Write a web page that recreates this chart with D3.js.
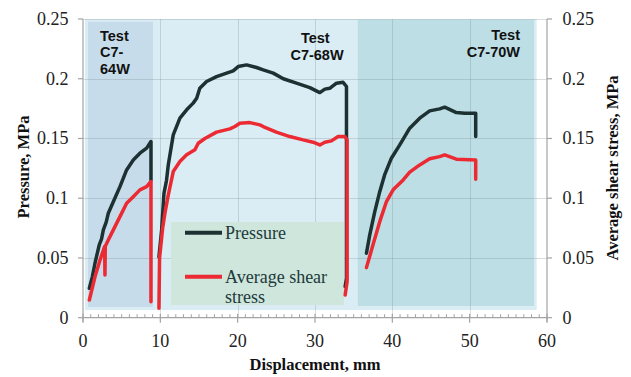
<!DOCTYPE html>
<html>
<head>
<meta charset="utf-8">
<script src="https://cdn.jsdelivr.net/npm/d3@7"></script>
<style>
  html, body { margin: 0; padding: 0; background: #fff; }
  svg { display: block; }
</style>
</head>
<body>
<svg id="chart" width="631" height="377"></svg>
<script>
// Displacement (mm) / value (MPa) pairs for each test
const pressure64 = [[0.82,0.0246],[1.2,0.034],[1.55,0.0456],[2.1,0.061],[2.4,0.066],[2.63,0.0735],[3.0,0.08],[3.27,0.0874],[3.92,0.097],[4.78,0.1097],[5.64,0.1237],[6.5,0.132],[7.36,0.1377],[8.23,0.1419],[8.79,0.1474],[8.79,0.115]];
const shear64 = [[0.82,0.0148],[1.55,0.0343],[2.2,0.0483],[2.8,0.0595],[2.84,0.0358],[2.88,0.0597],[3.27,0.065],[3.92,0.0735],[4.78,0.0846],[5.64,0.0958],[6.5,0.1013],[7.36,0.107],[8.23,0.1097],[8.79,0.114],[8.79,0.0134]];

const pressure68 = [[9.82,0.051],[10.17,0.0735],[10.47,0.104],[10.8,0.115],[11.03,0.128],[11.67,0.153],[12.53,0.167],[13.4,0.174],[14.25,0.1796],[14.7,0.1837],[15.1,0.192],[15.98,0.1977],[17.27,0.2018],[18.57,0.2047],[19.42,0.2066],[20.07,0.2102],[21.15,0.2116],[22.44,0.2094],[23.3,0.2074],[24.6,0.2047],[25.9,0.2],[27.6,0.1963],[29.33,0.1926],[30.62,0.1884],[31.27,0.1913],[31.9,0.192],[32.78,0.1963],[33.63,0.197],[34.07,0.1935],[34.07,0.033],[33.9,0.026]];
const shear68 = [[9.82,0.008],[9.9,0.05],[10.3,0.075],[10.6,0.0877],[11.03,0.1028],[11.67,0.1223],[12.53,0.1307],[13.4,0.1363],[14.47,0.1405],[14.9,0.146],[15.76,0.15],[17.27,0.1553],[18.99,0.158],[19.64,0.16],[20.28,0.1628],[21.57,0.1633],[22.87,0.1614],[23.3,0.16],[25.0,0.1553],[26.74,0.1516],[28.46,0.1488],[29.75,0.1469],[30.62,0.1446],[31.27,0.1469],[32.13,0.148],[32.99,0.1516],[33.85,0.1516],[34.15,0.149],[34.15,0.03],[33.9,0.019]];

const pressure70 = [[36.65,0.0539],[37.08,0.0693],[37.73,0.0888],[38.37,0.1055],[39.0,0.1195],[39.88,0.1335],[40.96,0.1446],[42.25,0.1586],[43.54,0.167],[44.83,0.1731],[46.12,0.1748],[46.77,0.1762],[48.28,0.1717],[49.35,0.1712],[50.78,0.1712],[50.78,0.1516]];
const shear70 = [[36.65,0.0419],[37.5,0.061],[38.37,0.0804],[39.24,0.0972],[40.1,0.107],[41.4,0.1153],[42.25,0.1218],[43.54,0.1279],[44.83,0.133],[46.12,0.1348],[46.77,0.1363],[48.28,0.1327],[50.78,0.132],[50.78,0.1159]];

const xTicks = [0, 10, 20, 30, 40, 50, 60];
const yTicks = [0, 0.05, 0.1, 0.15, 0.2, 0.25];
const seriesNames = ["Pressure", "Average shear stress"];
const testNames = ["C7-64W", "C7-68W", "C7-70W"];

const svg = d3.select("#chart");
const x = d3.scaleLinear().domain([0, 60]).range([83, 547]);
const y = d3.scaleLinear().domain([0, 0.25]).range([317.7, 19]);

const DARK = "#1d3133", RED = "#ec2a33", AXIS = "#a3a3a3";
const serif = "'Liberation Serif', 'Times New Roman', serif";
const sans = "'Liberation Sans', Arial, sans-serif";

// shaded test zones
svg.append("rect").attr("x", x(0.26)).attr("y", y(0.25)).attr("width", x(58.66) - x(0.26)).attr("height", y(0.0064) - y(0.25)).attr("fill", "#daedf4");
svg.append("rect").attr("x", x(0.65)).attr("y", y(0.2477)).attr("width", x(9.05) - x(0.65)).attr("height", y(0.009) - y(0.2477)).attr("fill", "#c7dcea");
svg.append("rect").attr("x", x(35.53)).attr("y", y(0.2493)).attr("width", x(58.33) - x(35.53)).attr("height", y(0.0098) - y(0.2493)).attr("fill", "#bddee5");

// gridlines
const grid = svg.append("g").attr("stroke", "rgba(120,135,140,0.28)").attr("stroke-width", 1);
yTicks.filter(d => d > 0).forEach(v => {
  grid.append("line").attr("x1", x(0)).attr("x2", x(60)).attr("y1", Math.round(y(v)) + 0.5).attr("y2", Math.round(y(v)) + 0.5);
});
xTicks.filter(d => d > 0 && d < 60).forEach(v => {
  grid.append("line").attr("y1", y(0)).attr("y2", y(0.25)).attr("x1", Math.round(x(v)) + 0.5).attr("x2", Math.round(x(v)) + 0.5);
});

// legend panel
const lg = svg.append("g");
lg.append("rect").attr("x", 171).attr("y", 222).attr("width", 173).attr("height", 83).attr("fill", "#cee6dc");
lg.append("line").attr("x1", 185).attr("x2", 222).attr("y1", 232.7).attr("y2", 232.7).attr("stroke", DARK).attr("stroke-width", 4);
lg.append("line").attr("x1", 185).attr("x2", 222).attr("y1", 276.7).attr("y2", 276.7).attr("stroke", RED).attr("stroke-width", 4);
lg.append("text").attr("x", 225).attr("y", 239).attr("font-family", serif).attr("font-size", 18).attr("fill", "#22393a").text(seriesNames[0]);
const lt = lg.append("text").attr("x", 225).attr("y", 282.5).attr("font-family", serif).attr("font-size", 18).attr("fill", "#22393a");
lt.append("tspan").attr("x", 225).text("Average shear");
lt.append("tspan").attr("x", 225).attr("y", 302.5).text("stress");

// curves
const line = d3.line().x(d => x(d[0])).y(d => y(d[1]));
const curves = [[pressure64, DARK], [shear64, RED], [pressure68, DARK], [shear68, RED], [pressure70, DARK], [shear70, RED]];
svg.append("g").selectAll("path").data(curves).join("path")
  .attr("d", d => line(d[0]))
  .attr("fill", "none")
  .attr("stroke", d => d[1])
  .attr("stroke-width", 3.5)
  .attr("stroke-linejoin", "round")
  .attr("stroke-linecap", "round");

// axes
const axes = svg.append("g").attr("stroke", AXIS).attr("stroke-width", 1.2);
axes.append("line").attr("x1", x(0)).attr("x2", x(0)).attr("y1", y(0.25)).attr("y2", y(0) + 4);
axes.append("line").attr("x1", x(60)).attr("x2", x(60)).attr("y1", y(0.25)).attr("y2", y(0) + 4);
axes.append("line").attr("x1", x(0)).attr("x2", x(60)).attr("y1", y(0)).attr("y2", y(0));
yTicks.forEach(v => {
  axes.append("line").attr("x1", x(0) - 5).attr("x2", x(0)).attr("y1", y(v)).attr("y2", y(v));
  axes.append("line").attr("x1", x(60)).attr("x2", x(60) + 5).attr("y1", y(v)).attr("y2", y(v));
});
d3.range(0, 61).forEach(v => {
  if (v % 10 === 0) {
    axes.append("line").attr("x1", x(v)).attr("x2", x(v)).attr("y1", y(0) - 4).attr("y2", y(0) + 5);
  } else {
    axes.append("line").attr("x1", x(v)).attr("x2", x(v)).attr("y1", y(0) - 3.5).attr("y2", y(0)).attr("stroke-width", 1);
  }
});

// tick labels
const fmt = v => v === 0 ? "0" : String(+v.toFixed(2));
svg.append("g").selectAll("text").data(yTicks).join("text")
  .attr("x", 68.5).attr("y", d => y(d) + 6).attr("text-anchor", "end")
  .attr("font-family", serif).attr("font-size", 18).attr("fill", "#222").text(fmt);
svg.append("g").selectAll("text").data(yTicks).join("text")
  .attr("x", 562.5).attr("y", d => y(d) + 6).attr("text-anchor", "start")
  .attr("font-family", serif).attr("font-size", 18).attr("fill", "#222").text(fmt);
svg.append("g").selectAll("text").data(xTicks).join("text")
  .attr("x", d => x(d)).attr("y", 346.5).attr("text-anchor", "middle")
  .attr("font-family", serif).attr("font-size", 18).attr("fill", "#222").text(d => d);

// axis titles
svg.append("text").attr("transform", "translate(29,167) rotate(-90)").attr("text-anchor", "middle")
  .attr("font-family", serif).attr("font-size", 16.5).attr("font-weight", "bold").attr("fill", "#111").text("Pressure, MPa");
svg.append("text").attr("transform", "translate(618,168) rotate(-90)").attr("text-anchor", "middle")
  .attr("font-family", serif).attr("font-size", 16.5).attr("font-weight", "bold").attr("fill", "#111").text("Average shear stress, MPa");
svg.append("text").attr("x", 315).attr("y", 370).attr("text-anchor", "middle")
  .attr("font-family", serif).attr("font-size", 16.5).attr("font-weight", "bold").attr("fill", "#111").text("Displacement, mm");

// test labels
const tl = svg.append("g").attr("font-family", sans).attr("font-size", 14.5).attr("font-weight", "bold").attr("fill", "#111");
tl.append("text").attr("x", 100).attr("y", 40.7).text("Test");
tl.append("text").attr("x", 100).attr("y", 57.3).text(testNames[0].slice(0, 3));
tl.append("text").attr("x", 100).attr("y", 74).text(testNames[0].slice(3));
tl.append("text").attr("x", 315.3).attr("y", 42.7).attr("text-anchor", "middle").text("Test");
tl.append("text").attr("x", 317).attr("y", 60).attr("text-anchor", "middle").text(testNames[1]);
tl.append("text").attr("x", 520).attr("y", 40).attr("text-anchor", "end").text("Test");
tl.append("text").attr("x", 520).attr("y", 57.3).attr("text-anchor", "end").text(testNames[2]);
</script>
</body>
</html>
